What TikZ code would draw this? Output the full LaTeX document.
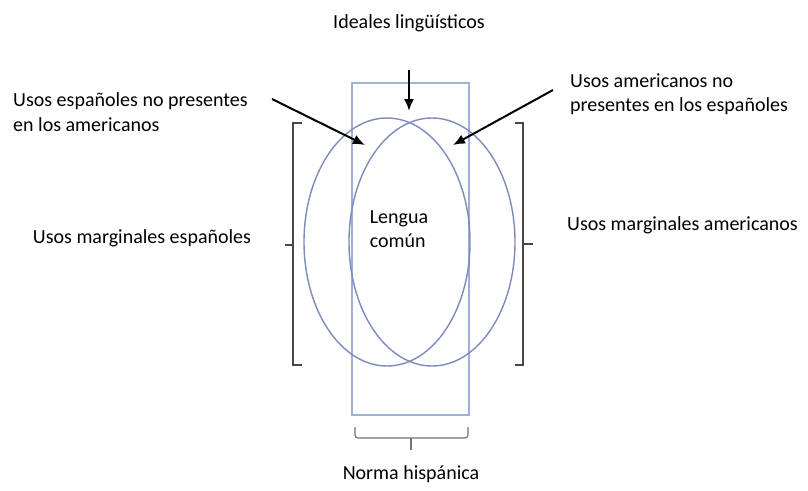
\documentclass[tikz,border=0pt]{standalone}
\usepackage{fontspec}
\setmainfont{Carlito}
\usetikzlibrary{arrows.meta, shapes.geometric}

\definecolor{ellblue}{RGB}{125,138,188}
\definecolor{boxblue}{RGB}{160,175,218}

\begin{document}
\begin{tikzpicture}[
	x=1pt, y=-1pt,
	font=\fontsize{20}{24.5}\selectfont,
	lbl/.style={inner sep=0pt, align=left},
	zone/.style={ellipse, draw=ellblue, line width=1.4pt, minimum width=166pt, minimum height=248pt, inner sep=0pt},
	marco/.style={draw=boxblue, line width=1.4pt},
	bracket/.style={draw=black!72, line width=2pt},
	brace/.style={draw=black!55, line width=1.2pt, rounded corners=3pt},
	arrow/.style={-{Latex[length=12pt, width=10pt]}, line width=2pt, black}
	]
	\useasboundingbox (0,0) rectangle (808,490);
	
	% Norm box and the two sets of uses
	\draw[marco] (352,83) rectangle (469,415);
	\node[zone] (esp) at (387,242) {};
	\node[zone] (ame) at (432,242) {};
	
	% Labels
	\node[lbl] (ideales) at (409,23) {Ideales lingüísticos};
	\node[lbl, anchor=west] (esp-np) at (13,112) {Usos españoles no presentes\\en los americanos};
	\node[lbl, anchor=west] (ame-np) at (570,94) {Usos americanos no\\presentes en los españoles};
	\node[lbl] (marg-esp) at (142,238) {Usos marginales españoles};
	\node[lbl, anchor=west] (marg-ame) at (567,225) {Usos marginales americanos};
	\node[lbl] (comun) at (399,229) {Lengua\\común};
	\node[lbl] (norma) at (411,474) {Norma hispánica};
	
	% Brackets
	\draw[bracket] (302,123) -- (293,123) -- (293,365) -- (302,365);
	\draw[bracket] (293,245) -- (285,245);
	\draw[bracket] (515,123) -- (523,123) -- (523,365) -- (515,365);
	\draw[bracket] (523,244) -- (533,244);
	\draw[brace] (355,427) |- (468,438) -- (468,427);
	\draw[brace] (411,438) -- (411,450);
	
	% Arrows
	\coordinate (ideales-from) at (409,70);
	\coordinate (ideales-tip) at (409,111);
	\coordinate (esp-from) at (272,99);
	\coordinate (esp-tip) at (365,145);
	\coordinate (ame-from) at (553,90);
	\coordinate (ame-tip) at (453,145);
	\draw[arrow] (ideales-from) -- (ideales-tip);
	\draw[arrow] (esp-from) -- (esp-tip);
	\draw[arrow] (ame-from) -- (ame-tip);
	
\end{tikzpicture}
\end{document}
